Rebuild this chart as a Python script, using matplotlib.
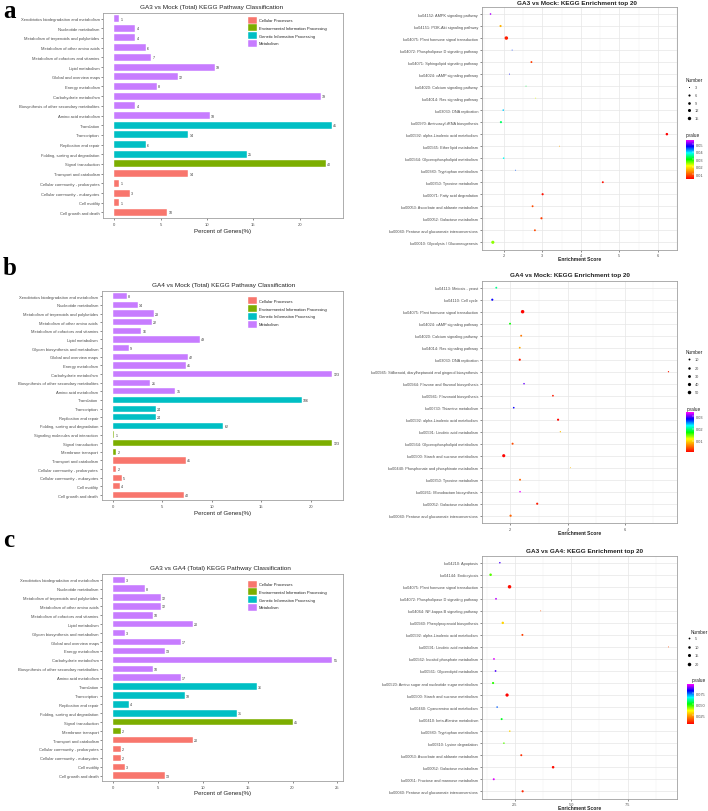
import matplotlib
matplotlib.use('Agg')
import matplotlib.pyplot as plt
import numpy as np
from matplotlib.colors import LinearSegmentedColormap, Normalize
from matplotlib.patches import Rectangle
from matplotlib.colorbar import ColorbarBase

plt.rcParams['font.family'] = ['Liberation Sans', 'DejaVu Sans']

# ---------------- data: pathway classification ----------------
class_names = ['Cellular Processes', 'Environmental Information Processing',
               'Genetic Information Processing', 'Metabolism']
class_colors = ['#F8766D', '#7CAE00', '#00BFC4', '#C77CFF']

pathway_class = {
    'Xenobiotics biodegradation and metabolism': 3, 'Nucleotide metabolism': 3,
    'Metabolism of terpenoids and polyketides': 3, 'Metabolism of other amino acids': 3,
    'Metabolism of cofactors and vitamins': 3, 'Lipid metabolism': 3,
    'Glycan biosynthesis and metabolism': 3, 'Global and overview maps': 3,
    'Energy metabolism': 3, 'Carbohydrate metabolism': 3,
    'Biosynthesis of other secondary metabolites': 3, 'Amino acid metabolism': 3,
    'Translation': 2, 'Transcription': 2, 'Replication and repair': 2,
    'Folding, sorting and degradation': 2,
    'Signaling molecules and interaction': 1, 'Signal transduction': 1, 'Membrane transport': 1,
    'Transport and catabolism': 0, 'Cellular community - prokaryotes': 0,
    'Cellular community - eukaryotes': 0, 'Cell motility': 0, 'Cell growth and death': 0,
}

a_paths = ['Xenobiotics biodegradation and metabolism', 'Nucleotide metabolism',
           'Metabolism of terpenoids and polyketides', 'Metabolism of other amino acids',
           'Metabolism of cofactors and vitamins', 'Lipid metabolism', 'Global and overview maps',
           'Energy metabolism', 'Carbohydrate metabolism',
           'Biosynthesis of other secondary metabolites', 'Amino acid metabolism',
           'Translation', 'Transcription', 'Replication and repair',
           'Folding, sorting and degradation', 'Signal transduction', 'Transport and catabolism',
           'Cellular community - prokaryotes', 'Cellular community - eukaryotes',
           'Cell motility', 'Cell growth and death']
a_counts = [1, 4, 4, 6, 7, 19, 12, 8, 39, 4, 18, 41, 14, 6, 25, 40, 14, 1, 3, 1, 10]
a_total = 175

b_paths = ['Xenobiotics biodegradation and metabolism', 'Nucleotide metabolism',
           'Metabolism of terpenoids and polyketides', 'Metabolism of other amino acids',
           'Metabolism of cofactors and vitamins', 'Lipid metabolism',
           'Glycan biosynthesis and metabolism', 'Global and overview maps',
           'Energy metabolism', 'Carbohydrate metabolism',
           'Biosynthesis of other secondary metabolites', 'Amino acid metabolism',
           'Translation', 'Transcription', 'Replication and repair',
           'Folding, sorting and degradation', 'Signaling molecules and interaction',
           'Signal transduction', 'Membrane transport', 'Transport and catabolism',
           'Cellular community - prokaryotes', 'Cellular community - eukaryotes',
           'Cell motility', 'Cell growth and death']
b_counts = [8, 14, 23, 22, 16, 49, 9, 42, 41, 123, 21, 35, 106, 24, 24, 62, 1, 123, 2, 41, 2, 5, 4, 40]
b_total = 555

c_paths = ['Xenobiotics biodegradation and metabolism', 'Nucleotide metabolism',
           'Metabolism of terpenoids and polyketides', 'Metabolism of other amino acids',
           'Metabolism of cofactors and vitamins', 'Lipid metabolism',
           'Glycan biosynthesis and metabolism', 'Global and overview maps',
           'Energy metabolism', 'Carbohydrate metabolism',
           'Biosynthesis of other secondary metabolites', 'Amino acid metabolism',
           'Translation', 'Transcription', 'Replication and repair',
           'Folding, sorting and degradation', 'Signal transduction', 'Membrane transport',
           'Transport and catabolism', 'Cellular community - prokaryotes',
           'Cellular community - eukaryotes', 'Cell motility', 'Cell growth and death']
c_counts = [3, 8, 12, 12, 10, 20, 3, 17, 13, 55, 10, 17, 36, 18, 4, 31, 45, 2, 20, 2, 2, 3, 13]
c_total = 225

# ---------------- data: enrichment top 20 ----------------
a_terms = ['ko04152: AMPK signaling pathway', 'ko04151: PI3K-Akt signaling pathway',
           'ko04075: Plant hormone signal transduction', 'ko04072: Phospholipase D signaling pathway',
           'ko04071: Sphingolipid signaling pathway', 'ko04024: cAMP signaling pathway',
           'ko04020: Calcium signaling pathway', 'ko04014: Ras signaling pathway',
           'ko03030: DNA replication', 'ko00970: Aminoacyl-tRNA biosynthesis',
           'ko00592: alpha-Linolenic acid metabolism', 'ko00565: Ether lipid metabolism',
           'ko00564: Glycerophospholipid metabolism', 'ko00380: Tryptophan metabolism',
           'ko00350: Tyrosine metabolism', 'ko00071: Fatty acid degradation',
           'ko00053: Ascorbate and aldarate metabolism', 'ko00052: Galactose metabolism',
           'ko00040: Pentose and glucuronate interconversions', 'ko00010: Glycolysis / Gluconeogenesis']
a_score = [1.66, 1.92, 2.07, 2.22, 2.72, 2.15, 2.58, 2.83, 1.99, 1.93,
           6.23, 3.45, 2.00, 2.31, 4.57, 3.01, 2.75, 2.98, 2.81, 1.72]
a_number = [4, 6, 16, 3, 5, 3, 3, 3, 4, 6, 8, 3, 4, 3, 5, 6, 5, 6, 5, 13]
a_pvalue = [0.053, 0.016, 0.006, 0.045, 0.008, 0.047, 0.032, 0.022, 0.040, 0.033,
            0.004, 0.015, 0.038, 0.044, 0.005, 0.005, 0.009, 0.008, 0.009, 0.025]

b_terms = ['ko04113: Meiosis - yeast', 'ko04110: Cell cycle',
           'ko04075: Plant hormone signal transduction', 'ko04024: cAMP signaling pathway',
           'ko04020: Calcium signaling pathway', 'ko04014: Ras signaling pathway',
           'ko03030: DNA replication', 'ko00945: Stilbenoid, diarylheptanoid and gingerol biosynthesis',
           'ko00944: Flavone and flavonol biosynthesis', 'ko00941: Flavonoid biosynthesis',
           'ko00730: Thiamine metabolism', 'ko00592: alpha-Linolenic acid metabolism',
           'ko00591: Linoleic acid metabolism', 'ko00564: Glycerophospholipid metabolism',
           'ko00500: Starch and sucrose metabolism', 'ko00440: Phosphonate and phosphinate metabolism',
           'ko00350: Tyrosine metabolism', 'ko00261: Monobactam biosynthesis',
           'ko00052: Galactose metabolism', 'ko00040: Pentose and glucuronate interconversions']
b_score = [1.51, 1.37, 2.43, 1.99, 2.38, 2.33, 2.33, 7.53, 2.48, 3.49,
           2.12, 3.67, 3.75, 2.08, 1.77, 4.10, 2.34, 2.34, 2.94, 2.01]
b_number = [10, 14, 50, 10, 10, 9, 14, 4, 6, 8, 7, 14, 4, 12, 38, 3, 10, 6, 14, 15]
b_pvalue = [0.020, 0.028, 0.001, 0.017, 0.006, 0.008, 0.002, 0.002, 0.030, 0.002,
            0.028, 0.001, 0.009, 0.004, 0.001, 0.009, 0.005, 0.033, 0.002, 0.005]

c_terms = ['ko04210: Apoptosis', 'ko04144: Endocytosis',
           'ko04075: Plant hormone signal transduction', 'ko04072: Phospholipase D signaling pathway',
           'ko04064: NF-kappa B signaling pathway', 'ko00940: Phenylpropanoid biosynthesis',
           'ko00592: alpha-Linolenic acid metabolism', 'ko00591: Linoleic acid metabolism',
           'ko00562: Inositol phosphate metabolism', 'ko00561: Glycerolipid metabolism',
           'ko00520: Amino sugar and nucleotide sugar metabolism', 'ko00500: Starch and sucrose metabolism',
           'ko00460: Cyanoamino acid metabolism', 'ko00410: beta-Alanine metabolism',
           'ko00380: Tryptophan metabolism', 'ko00310: Lysine degradation',
           'ko00053: Ascorbate and aldarate metabolism', 'ko00052: Galactose metabolism',
           'ko00051: Fructose and mannose metabolism', 'ko00040: Pentose and glucuronate interconversions']
c_score = [1.84, 1.43, 2.27, 1.67, 3.65, 1.97, 2.84, 9.31, 1.58, 1.65,
           1.54, 2.16, 1.72, 1.92, 2.28, 2.02, 2.79, 4.20, 1.57, 2.85]
c_number = [4, 10, 20, 5, 3, 9, 6, 3, 5, 5, 7, 17, 4, 6, 4, 4, 6, 10, 6, 7]
c_pvalue = [0.085, 0.045, 0.006, 0.092, 0.015, 0.030, 0.012, 0.013, 0.094, 0.085,
            0.048, 0.005, 0.075, 0.052, 0.030, 0.045, 0.010, 0.006, 0.094, 0.009]

# ---------------- layout helpers ----------------
W, H = 708, 812
fig = plt.figure(figsize=(W / 100, H / 100), dpi=100)
fig.patch.set_facecolor('white')


def rect(l, t, r, b):
    return [l / W, 1 - b / H, (r - l) / W, (b - t) / H]


def ftext(x, y, s, **kw):
    return fig.text(x / W, 1 - y / H, s, **kw)


rainbow = LinearSegmentedColormap.from_list(
    'rb', ['#FF0000', '#FF8000', '#FFFF00', '#00FF00', '#00FFFF', '#0000FF', '#FF00FF'])

TXT = '#4D4D4D'


def bar_panel(box, title, title_cx, title_y, paths, counts, total, xticks,
              xlab_y, leg_y0):
    l, t, r, b = box
    ax = fig.add_axes(rect(l, t, r, b))
    n = len(paths)
    y = np.arange(n)[::-1]
    pct = np.array(counts) / total * 100
    cols = [class_colors[pathway_class[p]] for p in paths]
    ax.barh(y, pct, height=0.72, color=cols, edgecolor='white', linewidth=0.3)
    for yi, v, c in zip(y, pct, counts):
        ax.text(v + 0.12, yi, str(c), fontsize=2.6, va='center', ha='left', color='#333333')
    xmax = pct.max()
    ax.set_xlim(-0.05 * xmax, 1.05 * xmax)
    ax.set_ylim(-0.6, n - 0.4)
    ax.set_yticks(y)
    ax.set_yticklabels(paths)
    ax.set_xticks(xticks)
    ax.set_xticklabels([str(v) for v in xticks])
    ax.tick_params(length=1.6, width=0.4, color='#333333', labelsize=3.0,
                   labelcolor=TXT, pad=1.0)
    for s in ax.spines.values():
        s.set_color('#A0A0A0')
        s.set_linewidth(0.6)
    ftext(title_cx, title_y, title, fontsize=4.6, ha='center', va='center', color='#222222')
    ftext((l + r) / 2, xlab_y, 'Percent of Genes(%)', fontsize=4.4, ha='center',
          va='center', color='#222222')
    # legend
    for i, (nm, col) in enumerate(zip(class_names, class_colors)):
        cy = leg_y0 + 7.8 * i
        fig.add_artist(Rectangle(((248.3) / W, 1 - (cy + 3.5) / H), 8.2 / W, 7 / H,
                                 transform=fig.transFigure, facecolor=col,
                                 edgecolor='white', linewidth=0.3))
        ftext(259, cy, nm, fontsize=2.9, ha='left', va='center', color='#222222')
    return ax


def size_px(v, lo, hi):
    f = np.clip((np.asarray(v, float) - lo) / (hi - lo), 0, 1)
    d = 0.9 + np.sqrt(f) * 2.6
    return (d * 0.72) ** 2


def dot_panel(box, title, title_cx, title_y, terms, score, number, pval,
              xticks, xticklabels, xlab_y, size_lo, size_hi, size_breaks,
              num_title_xy, num_rows_y, pv_lim, pv_ticks, pv_labels, pv_title_xy, pv_box):
    l, t, r, b = box
    ax = fig.add_axes(rect(l, t, r, b))
    n = len(terms)
    y = np.arange(n)[::-1]
    norm = Normalize(pv_lim[0], pv_lim[1])
    ax.scatter(score, y, s=size_px(number, size_lo, size_hi), c=pval, cmap=rainbow,
               norm=norm, linewidths=0, zorder=3)
    smin, smax = min(score), max(score)
    rng = smax - smin
    ax.set_xlim(smin - 0.05 * rng, smax + 0.05 * rng)
    ax.set_ylim(-0.6, n - 0.4)
    ax.set_yticks(y)
    ax.set_yticklabels(terms)
    ax.set_xticks(xticks)
    ax.set_xticklabels(xticklabels)
    minors = [(xticks[i] + xticks[i + 1]) / 2 for i in range(len(xticks) - 1)]
    step = xticks[1] - xticks[0]
    minors = [xticks[0] - step / 2] + minors + [xticks[-1] + step / 2]
    ax.set_xticks(minors, minor=True)
    ax.tick_params(which='minor', length=0)
    ax.grid(True, which='major', color='#E6E6E6', linewidth=0.5, zorder=0)
    ax.grid(True, which='minor', axis='x', color='#F0F0F0', linewidth=0.3, zorder=0)
    ax.set_axisbelow(True)
    ax.tick_params(which='major', length=1.6, width=0.4, color='#333333', labelsize=2.8,
                   labelcolor=TXT, pad=1.0)
    for s in ax.spines.values():
        s.set_color('#A0A0A0')
        s.set_linewidth(0.6)
    ftext(title_cx, title_y, title, fontsize=4.6, ha='center', va='center',
          color='#222222', fontweight='bold')
    ftext((l + r) / 2, xlab_y, 'Enrichment Score', fontsize=3.6, ha='center', va='center',
          color='#222222', fontweight='bold')
    # size legend
    ftext(num_title_xy[0], num_title_xy[1], 'Number', fontsize=3.4, ha='left', va='center',
          color='#222222')
    for v, yy in zip(size_breaks, num_rows_y):
        fig.add_artist(matplotlib.lines.Line2D([688.5 / W], [1 - yy / H], marker='o',
                                               markersize=np.sqrt(size_px(v, size_lo, size_hi)),
                                               color='black', markeredgewidth=0,
                                               transform=fig.transFigure))
        ftext(695, yy, str(v), fontsize=2.8, ha='left', va='center', color=TXT)
    # colorbar
    ftext(pv_title_xy[0], pv_title_xy[1], 'pvalue', fontsize=3.4, ha='left', va='center',
          color='#222222')
    cax = fig.add_axes(rect(*pv_box))
    cb = ColorbarBase(cax, cmap=rainbow, norm=norm, ticks=pv_ticks)
    cb.set_ticklabels(pv_labels)
    cb.outline.set_visible(False)
    cax.tick_params(length=1.2, width=0.3, color='white', direction='in', labelsize=2.8,
                    labelcolor=TXT, pad=1.0)
    return ax


# ---------------- panels ----------------
bar_panel((103.3, 13.7, 342.5, 219.3), 'GA3 vs Mock (Total) KEGG Pathway Classification',
          212, 7, a_paths, a_counts, a_total, [0, 5, 10, 15, 20], 231.5, 21)
bar_panel((101.7, 292.1, 343.3, 501.2), 'GA4 vs Mock (Total) KEGG Pathway Classification',
          224, 285.3, b_paths, b_counts, b_total, [0, 5, 10, 15, 20], 513, 301.7)
bar_panel((102.3, 575.4, 343.3, 782), 'GA3 vs GA4 (Total) KEGG Pathway Classification',
          220.5, 569, c_paths, c_counts, c_total, [0, 5, 10, 15, 20, 25], 793.3, 585)

dot_panel((481.7, 7.8, 677.3, 250.5), 'GA3 vs Mock: KEGG Enrichment top 20', 577, 3.5,
          a_terms, a_score, a_number, a_pvalue, [2, 3, 4, 5, 6], ['2', '3', '4', '5', '6'],
          260, 3, 16, [3, 6, 9, 12, 15], (686, 80), [88.3, 95.7, 103.7, 111.3, 119.3],
          (0.0038, 0.0557), [0.01, 0.02, 0.03, 0.04, 0.05],
          ['0.01', '0.02', '0.03', '0.04', '0.05'], (686, 136), (685.7, 140.7, 694, 180))
dot_panel((481.7, 281.5, 677.3, 523.9), 'GA4 vs Mock: KEGG Enrichment top 20', 570, 276,
          b_terms, b_score, b_number, b_pvalue, [2, 4, 6], ['2', '4', '6'],
          533.5, 3, 50, [10, 20, 30, 40, 50], (686, 353), [360.3, 369, 377.3, 385.3, 393.3],
          (0.0008, 0.0333), [0.01, 0.02, 0.03], ['0.01', '0.02', '0.03'],
          (686.7, 410), (686, 413.3, 694.3, 453.3))
dot_panel((481.7, 556.5, 677.3, 799.5), 'GA3 vs GA4: KEGG Enrichment top 20', 585, 552,
          c_terms, c_score, c_number, c_pvalue, [2.5, 5.0, 7.5], ['2.5', '5.0', '7.5'],
          808.5, 3, 20, [5, 10, 15, 20], (691, 632), [639.3, 648, 656.3, 664.7],
          (0.0044, 0.096), [0.025, 0.050, 0.075], ['0.025', '0.050', '0.075'],
          (691.7, 681), (686.7, 685, 694.3, 725))

# panel letters
for letter, yb in [('a', 17.5), ('b', 275), ('c', 547.3)]:
    ftext(3, yb, letter, fontsize=18, fontweight='bold', family='Liberation Serif',
          ha='left', va='baseline', color='black')

fig.savefig('out.png', dpi=100, facecolor='white')
